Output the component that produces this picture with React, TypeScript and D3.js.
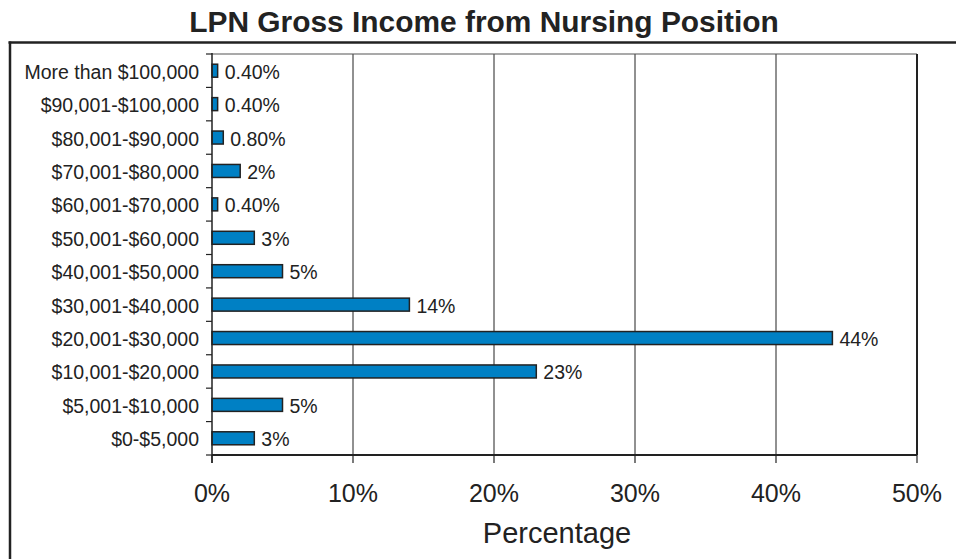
import React from "react";
import * as d3 from "d3";

const categories = [
  "More than $100,000",
  "$90,001-$100,000",
  "$80,001-$90,000",
  "$70,001-$80,000",
  "$60,001-$70,000",
  "$50,001-$60,000",
  "$40,001-$50,000",
  "$30,001-$40,000",
  "$20,001-$30,000",
  "$10,001-$20,000",
  "$5,001-$10,000",
  "$0-$5,000",
];
const values = [0.4, 0.4, 0.8, 2, 0.4, 3, 5, 14, 44, 23, 5, 3];
const valueLabels = ["0.40%", "0.40%", "0.80%", "2%", "0.40%", "3%", "5%", "14%", "44%", "23%", "5%", "3%"];
const xTicks = [0, 10, 20, 30, 40, 50];

const W = 956;
const H = 559;
const plot = { left: 212, right: 917, top: 54, bottom: 455 };
const FONT = "Liberation Sans, Arial, sans-serif";
const INK = "#222";

export default function App() {
  const x = d3.scaleLinear().domain([0, 50]).range([plot.left, plot.right]);
  const y = d3.scaleBand<string>().domain(categories).range([plot.top, plot.bottom]).paddingInner(0).paddingOuter(0);
  const bw = y.bandwidth();
  const barH = 13;
  const boundaries = d3.range(categories.length + 1).map((i) => plot.top + i * bw);

  return (
    <svg width={W} height={H} style={{ position: "absolute", left: 0, top: 0, background: "#fff" }} fontFamily={FONT}>
      <rect x={0} y={0} width={W} height={H} fill="#fff" />
      <text x={484} y={32} textAnchor="middle" fontWeight="bold" fontSize={29.9} fill={INK}>
        LPN Gross Income from Nursing Position
      </text>
      {/* outer frame */}
      <line x1={8.5} x2={W} y1={42.5} y2={42.5} stroke={INK} strokeWidth={2.5} />
      <line x1={10} x2={10} y1={41.5} y2={H} stroke={INK} strokeWidth={2.5} />

      {/* gridlines */}
      {xTicks.slice(1, -1).map((t) => (
        <line key={"g" + t} x1={x(t)} x2={x(t)} y1={plot.top} y2={plot.bottom} stroke={INK} strokeWidth={1} />
      ))}
      {/* plot border */}
      <line x1={plot.left} x2={plot.right} y1={plot.top} y2={plot.top} stroke="#555" strokeWidth={1.2} />
      <line x1={plot.right} x2={plot.right} y1={plot.top} y2={plot.bottom} stroke={INK} strokeWidth={2} />

      {/* bars */}
      {categories.map((c, i) => {
        const cy = (y(c) as number) + bw / 2;
        return (
          <g key={c}>
            <rect x={x(0)} y={cy - barH / 2} width={x(values[i]) - x(0)} height={barH} fill="#0080C4" stroke={INK} strokeWidth={1.5} />
            <text x={x(values[i]) + 7} y={cy + 1} fontSize={19.5} fill={INK} dominantBaseline="central">
              {valueLabels[i]}
            </text>
            <text x={199} y={cy + 1} fontSize={19.5} fill={INK} textAnchor="end" dominantBaseline="central">
              {c}
            </text>
          </g>
        );
      })}

      {/* y axis */}
      <line x1={plot.left} x2={plot.left} y1={plot.top - 1} y2={plot.bottom + 8} stroke={INK} strokeWidth={1.5} />
      {boundaries.map((b, i) => (
        <line key={"yt" + i} x1={plot.left - 6} x2={plot.left} y1={b} y2={b} stroke={INK} strokeWidth={1.2} />
      ))}

      {/* x axis */}
      <line x1={plot.left} x2={plot.right} y1={plot.bottom} y2={plot.bottom} stroke={INK} strokeWidth={2} />
      {xTicks.map((t) => (
        <g key={"xt" + t}>
          <line x1={x(t)} x2={x(t)} y1={plot.bottom} y2={plot.bottom + 8} stroke={INK} strokeWidth={1.2} />
          <text x={x(t)} y={502} textAnchor="middle" fontSize={25} fill={INK}>
            {t + "%"}
          </text>
        </g>
      ))}
      <text x={557} y={543} textAnchor="middle" fontSize={29} fill={INK}>
        Percentage
      </text>
    </svg>
  );
}
